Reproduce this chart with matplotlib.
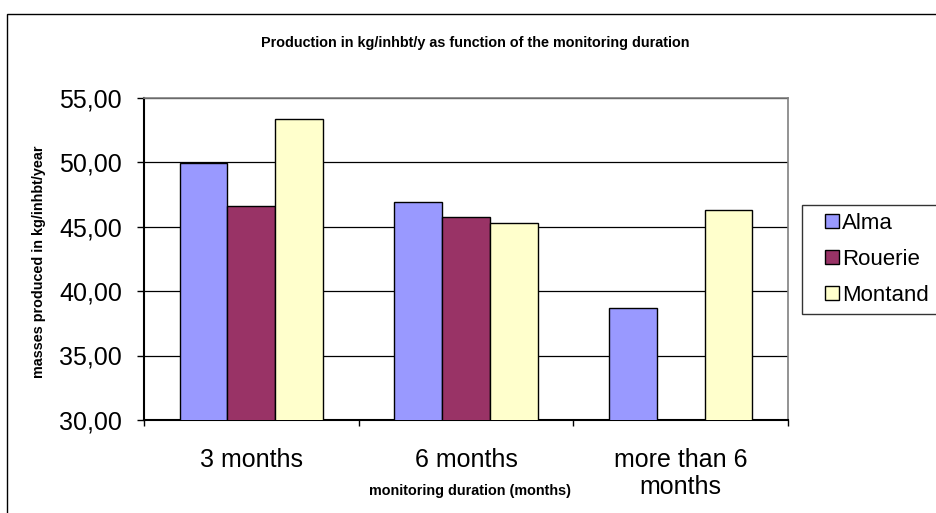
import numpy as np
import matplotlib.pyplot as plt
from matplotlib.patches import Rectangle
from matplotlib.container import BarContainer
from matplotlib.legend_handler import HandlerPatch, update_from_first_child

plt.rcParams['font.family'] = ['Liberation Sans', 'DejaVu Sans']

# datos
categorias = ['3 months', '6 months', 'more than 6\nmonths']
series = ['Alma', 'Rouerie', 'Montand']
alma = [49.9, 46.9, 38.7]
rouerie = [46.6, 45.7, np.nan]
montand = [53.3, 45.3, 46.3]
colores = ['#9999FF', '#993366', '#FFFFCC']
y_ticks = [30, 35, 40, 45, 50, 55]

W, H = 937, 513
fig = plt.figure(figsize=(W / 100, H / 100), dpi=100)

# marco exterior del gráfico
fig.patches.append(Rectangle((7 / W, -0.1), 1.1, (H - 14) / H + 0.1,
                             transform=fig.transFigure, fill=False,
                             edgecolor='black', linewidth=1.0))

ax = fig.add_axes([144 / W, (H - 420) / H, (788 - 144) / W, (420 - 97.5) / H])

x = np.arange(len(categorias))
w = 1 / 4.5
for i, (vals, col, nom) in enumerate(zip([alma, rouerie, montand], colores, series)):
    ax.bar(x + (i - 1) * w, vals, width=w, color=col, edgecolor='black',
           linewidth=1.0, label=nom, zorder=3)

ax.set_xlim(-0.5, 2.5)
ax.set_ylim(30, 55)
ax.set_yticks(y_ticks)
ax.set_yticklabels([f'{v:.2f}'.replace('.', ',') for v in y_ticks], fontsize=18)
ax.yaxis.grid(True, color='black', linewidth=0.9, zorder=0)

ax.set_xticks([-0.5, 0.5, 1.5, 2.5])
ax.set_xticklabels([])
ax.set_xticks(x, minor=True)
ax.set_xticklabels(categorias, minor=True, fontsize=18, linespacing=1.15)
ax.tick_params(axis='x', which='minor', length=0, pad=20)
ax.tick_params(axis='x', which='major', length=4, width=1, color='black')
ax.tick_params(axis='y', length=5, width=1, pad=11)

for s in ['top', 'right']:
    ax.spines[s].set_color('#808080')
    ax.spines[s].set_linewidth(1.2)
for s in ['left', 'bottom']:
    ax.spines[s].set_color('black')
    ax.spines[s].set_linewidth(1.5)

fig.text(475 / W, 1 - 43 / H, 'Production in kg/inhbt/y as function of the monitoring duration',
         ha='center', va='center', fontsize=10.4, fontweight='bold')
fig.text(39 / W, 1 - 262 / H, 'masses produced in kg/inhbt/year', rotation=90,
         ha='center', va='center', fontsize=10.4, fontweight='bold')
fig.text(470 / W, 1 - 491 / H, 'monitoring duration (months)',
         ha='center', va='center', fontsize=10.4, fontweight='bold')


# cuadrito de la leyenda pegado al texto
def cuadrito(legend, orig_handle, xdescent, ydescent, width, height, fontsize):
    return Rectangle((width - height - xdescent, -ydescent), height, height)


leg = fig.legend(loc='upper left', bbox_to_anchor=(802 / W, 1 - 205 / H),
                 fontsize=16, frameon=True, fancybox=False, edgecolor='black',
                 handlelength=1.3, handleheight=0.6, handletextpad=0.15,
                 labelspacing=0.68, borderpad=0.35, borderaxespad=0,
                 handler_map={BarContainer: HandlerPatch(patch_func=cuadrito,
                                                         update_func=update_from_first_child)})
leg.get_frame().set_linewidth(1.0)

fig.savefig('out.png', dpi=100, facecolor='white')
